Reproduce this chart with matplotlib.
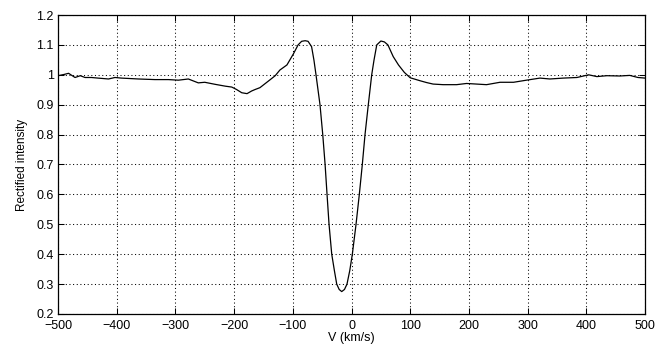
#!/usr/bin/env python3

import matplotlib
matplotlib.use("Agg")
import matplotlib.pyplot as plt

# velocity (km/s) and rectified intensity
velocity = [
    -500, -490, -482, -471, -462, -454, -443, -432, -414, -403,
    -392, -363, -335, -312, -295, -278, -261, -250, -232, -215,
    -204, -196, -187, -178, -170, -164, -156, -139, -130, -122,
    -110, -99, -91, -85, -79, -74, -68, -64, -60.5, -53.7,
    -49, -45, -41.7, -38.3, -33.7, -29, -25.2, -21, -16.7, -12,
    -7.7, -3, 1.4, 7.7, 13.3, 18.4, 23, 28.6, 34.4, 38.3,
    43, 50, 56, 62, 71, 80, 90, 100, 117, 128,
    139, 156, 179, 196, 213, 230, 253, 276, 298, 321,
    338, 361, 384, 404, 418, 435, 457, 474, 488, 500,
]
intensity = [
    0.997, 1.001, 1.005, 0.991, 0.997, 0.991, 0.991, 0.989, 0.986, 0.991,
    0.989, 0.986, 0.984, 0.984, 0.982, 0.986, 0.973, 0.975, 0.968, 0.962,
    0.959, 0.951, 0.940, 0.937, 0.946, 0.951, 0.957, 0.983, 0.997, 1.016,
    1.033, 1.070, 1.100, 1.112, 1.114, 1.112, 1.094, 1.049, 1.000, 0.900,
    0.800, 0.700, 0.600, 0.500, 0.400, 0.343, 0.300, 0.282, 0.275, 0.282,
    0.300, 0.345, 0.400, 0.500, 0.600, 0.700, 0.800, 0.900, 1.000, 1.049,
    1.100, 1.113, 1.110, 1.100, 1.061, 1.033, 1.008, 0.990, 0.980, 0.974,
    0.969, 0.967, 0.967, 0.971, 0.969, 0.967, 0.975, 0.975, 0.982, 0.989,
    0.986, 0.989, 0.991, 1.000, 0.994, 0.997, 0.996, 0.998, 0.991, 0.989,
]

x_ticks = list(range(-500, 501, 100))
y_ticks = [0.2, 0.3, 0.4, 0.5, 0.6, 0.7, 0.8, 0.9, 1.0, 1.1, 1.2]
y_tick_labels = ["0.2", "0.3", "0.4", "0.5", "0.6", "0.7", "0.8", "0.9", "1", "1.1", "1.2"]

plt.rcParams["font.family"] = ["Liberation Sans", "DejaVu Sans"]
plt.rcParams["font.size"] = 9

fig = plt.figure(figsize=(6.66, 3.53), dpi=100, facecolor="white")
ax = fig.add_axes([0.0871, 0.1105, 0.8814, 0.847])

ax.plot(velocity, intensity, color="black", linewidth=0.9)

ax.set_xlim(-500, 500)
ax.set_ylim(0.2, 1.2)
ax.set_xticks(x_ticks)
ax.set_yticks(y_ticks)
ax.set_yticklabels(y_tick_labels)
ax.grid(True, color="black", linestyle=(0, (1, 2.5)), linewidth=0.75)
ax.tick_params(direction="in", length=4.5, width=0.75, top=True, right=True,
               pad=3, labelsize=9)
ax.tick_params(axis="x", pad=4)
for sp in ax.spines.values():
    sp.set_linewidth(0.9)

ax.set_xlabel("V (km/s)", labelpad=0)
ax.set_ylabel("Rectified intensity", fontsize=8.5, labelpad=6)

plt.savefig("out.png", dpi=100)
